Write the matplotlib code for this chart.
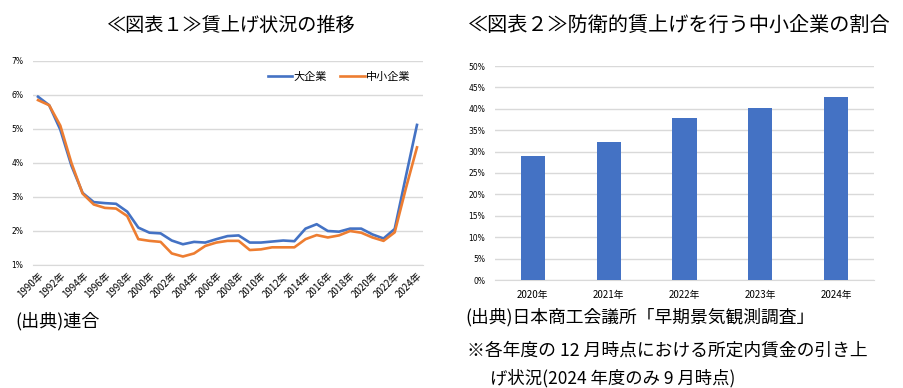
import numpy as np
import matplotlib
matplotlib.use("Agg")
import matplotlib.pyplot as plt

plt.rcParams['font.family'] = ['Noto Sans CJK JP', 'DejaVu Sans']

# Data
years = np.arange(1990, 2025)
large = [5.95, 5.70, 4.98, 3.92, 3.12, 2.85, 2.82, 2.80, 2.57, 2.10,
         1.95, 1.93, 1.72, 1.61, 1.68, 1.66, 1.76, 1.85, 1.87, 1.66,
         1.66, 1.69, 1.72, 1.70, 2.07, 2.20, 2.00, 1.98, 2.07, 2.07,
         1.90, 1.78, 2.06, 3.60, 5.12]
small = [5.85, 5.70, 5.10, 4.00, 3.10, 2.78, 2.68, 2.66, 2.44, 1.76,
         1.71, 1.68, 1.34, 1.25, 1.34, 1.56, 1.66, 1.71, 1.71, 1.44,
         1.46, 1.52, 1.52, 1.52, 1.76, 1.88, 1.81, 1.87, 2.00, 1.95,
         1.81, 1.71, 1.96, 3.25, 4.46]
line_yticks = [1, 2, 3, 4, 5, 6, 7]
line_ylabels = ["1%", "2%", "3%", "4%", "5%", "6%", "7%"]

bar_years = ["2020年", "2021年", "2022年", "2023年", "2024年"]
bar_values = [29.0, 32.3, 37.8, 40.3, 42.8]
bar_yticks = [0, 5, 10, 15, 20, 25, 30, 35, 40, 45, 50]

BLUE = '#4472C4'
ORANGE = '#ED7D31'
GRID = '#D9D9D9'

fig = plt.figure(figsize=(9.04, 3.88), dpi=100)

# Chart 1: line chart
ax1 = fig.add_axes([33 / 904, 1 - 265 / 388, 390 / 904, 204 / 388])
ax1.plot(years, large, color=BLUE, linewidth=1.9, label='大企業')
ax1.plot(years, small, color=ORANGE, linewidth=1.9, label='中小企業')
ax1.set_xlim(1989.55, 2024.54)
ax1.set_ylim(1, 7)
ax1.set_yticks(line_yticks)
ax1.set_yticklabels(line_ylabels, fontsize=5.5, family='DejaVu Sans')
xt = years[::2]
ax1.set_xticks(xt)
ax1.set_xticklabels([f"{y}年" for y in xt], fontsize=7, rotation=45,
                    ha='right', rotation_mode='anchor')
ax1.grid(axis='y', color=GRID, linewidth=1)
ax1.set_axisbelow(True)
for s in ['top', 'right', 'left']:
    ax1.spines[s].set_visible(False)
ax1.spines['bottom'].set_color(GRID)
ax1.tick_params(length=0, pad=7)
ax1.tick_params(axis='x', pad=4)
ax1.legend(loc='center right', bbox_to_anchor=(0.967, 0.92), ncol=2,
           frameon=False, fontsize=8, handlelength=2.2, handletextpad=0.1,
           columnspacing=1.2, borderpad=0, borderaxespad=0)

# Chart 2: bar chart
ax2 = fig.add_axes([495 / 904, 1 - 280 / 388, 379 / 904, 214 / 388])
ax2.bar(range(len(bar_years)), bar_values, width=0.32, color=BLUE, zorder=3)
ax2.set_xlim(-0.5, len(bar_years) - 0.5)
ax2.set_ylim(0, 50)
ax2.set_yticks(bar_yticks)
ax2.set_yticklabels([f"{v}%" for v in bar_yticks], fontsize=5.5, family='DejaVu Sans')
ax2.set_xticks(range(len(bar_years)))
ax2.set_xticklabels(bar_years, fontsize=7)
ax2.grid(axis='y', color=GRID, linewidth=1)
ax2.set_axisbelow(True)
for s in ['top', 'right', 'left']:
    ax2.spines[s].set_visible(False)
ax2.spines['bottom'].set_color(GRID)
ax2.tick_params(length=0, pad=7)

# Titles
fig.text(231 / 904, 1 - 25 / 388, "≪図表１≫賃上げ状況の推移", fontsize=13.8,
         ha='center', va='center')
fig.text(679 / 904, 1 - 25 / 388, "≪図表２≫防衛的賃上げを行う中小企業の割合", fontsize=14.5,
         ha='center', va='center')

# Notes
fig.text(15 / 904, 1 - 321 / 388, "(出典)連合", fontsize=13, va='center')
fig.text(465 / 904, 1 - 317 / 388, "(出典)日本商工会議所「早期景気観測調査」",
         fontsize=12.8, va='center')
fig.text(467 / 904, 1 - 350 / 388, "※各年度の 12 月時点における所定内賃金の引き上",
         fontsize=12.8, va='center')
fig.text(490 / 904, 1 - 378 / 388, "げ状況(2024 年度のみ 9 月時点)",
         fontsize=12.5, va='center')

fig.savefig("out.png", dpi=100)
